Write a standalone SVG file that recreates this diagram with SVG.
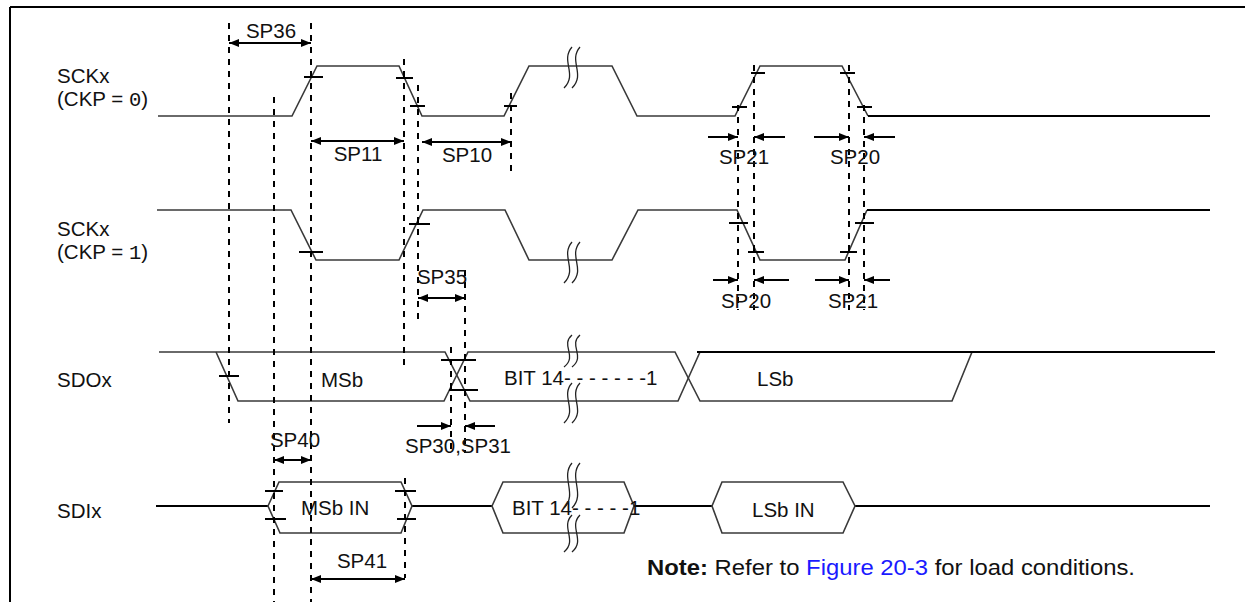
<svg xmlns="http://www.w3.org/2000/svg" width="1245" height="602" viewBox="0 0 1245 602">
<defs>
<style>
.frame{stroke:#000;stroke-width:2;fill:none}
.wave{stroke:#3a3a3a;stroke-width:1.6;fill:none;stroke-linejoin:miter}
.wave2{stroke:#000;stroke-width:2.2;fill:none}
.tick{stroke:#000;stroke-width:2;fill:none}
.dash{stroke:#000;stroke-width:2;stroke-dasharray:6 6;fill:none}
.arr{stroke:#000;stroke-width:2;fill:none}
.brk{stroke:#222;stroke-width:1.3;fill:none}
.lbl{font-family:"Liberation Sans",Arial,sans-serif;font-size:20.5px;fill:#111}
.mono{font-family:"Liberation Mono","Courier New",monospace}
</style>
<marker id="ah" viewBox="0 0 10 8" refX="10" refY="4" markerWidth="10" markerHeight="8" markerUnits="userSpaceOnUse" orient="auto-start-reverse">
<path d="M0,0 L10,4 L0,8 z" fill="#000"/>
</marker>
<path id="sq" d="M4,0 C-8,14 10,27 -4,41"/>
</defs>
<rect width="1245" height="602" fill="#fff"/>
<g id="frame">
<path class="frame" d="M10,7 H1245 M10,7 V602"/>
</g>

<g id="sck0">
<text class="lbl" x="57" y="83">SCKx</text>
<text class="lbl" x="57" y="106">(CKP = <tspan class="mono">0</tspan>)</text>
<path class="wave" d="M158,116 H292 L317,66 H399 L422,116 H504 L529,66 H612 L637,116 H735 L760,66 H842 L868,116"/>
<path class="wave2" d="M868,116 H1210"/>
<path class="tick" d="M304,77 H323 M396,78 H413 M410,106 H425 M504,106 H517 M732,107 H747 M751,73 H765 M840,73 H855 M857,107 H872"/>
<use href="#sq" class="brk" x="568" y="47"/>
<use href="#sq" class="brk" x="576" y="47"/>
</g>

<g id="sck1">
<text class="lbl" x="57" y="236">SCKx</text>
<text class="lbl" x="57" y="259">(CKP = <tspan class="mono">1</tspan>)</text>
<path class="wave" d="M157,210 H291 L316,260 H399 L423,210 H505 L529,260 H612 L638,210 H737 L760,260 H845 L867,210"/>
<path class="wave2" d="M867,210 H1210"/>
<path class="tick" d="M299,252 H323 M409,224 H430 M729,223 H748 M748,252 H764 M840,252 H857 M855,223 H874"/>
<use href="#sq" class="brk" x="568" y="242"/>
<use href="#sq" class="brk" x="576" y="242"/>
</g>

<g id="sdo">
<text class="lbl" x="57" y="387">SDOx</text>
<path class="wave" d="M159,352 H445 L470,401 H678 L700,352"/>
<path class="wave" d="M216,352 L238,401 H444 L468,352 H675 L700,401 H952 L972,352"/>
<path class="wave2" d="M697,352 H1215"/>
<path class="tick" d="M219,376 H239 M441,360 H476 M449,390 H478"/>
<text class="lbl" x="321" y="387">MSb</text>
<text class="lbl" x="504" y="385">BIT 14- - - - - - -1</text>
<text class="lbl" x="757" y="386">LSb</text>
<path class="brk" d="M572,335 C560,345 578,356 564,367 M580,335 C568,345 586,356 572,367"/>
<path class="brk" d="M572,383 C560,396 578,410 564,423 M580,383 C568,396 586,410 572,423"/>
</g>

<g id="sdi">
<text class="lbl" x="57" y="518">SDIx</text>
<path class="wave2" d="M156,506 H268 M412,506 H492 M634,506 H712 M855,506 H1210"/>
<path class="wave" d="M268,506 L279,482 H401 L412,506 L401,533 H280 Z"/>
<path class="wave" d="M492,506 L503,482 H624 L634,506 L624,533 H503 Z"/>
<path class="wave" d="M712,506 L722,482 H843 L855,506 L843,533 H722 Z"/>
<path class="tick" d="M265,491 H283 M265,519 H286 M395,491 H416 M397,519 H416"/>
<text class="lbl" x="301" y="515">MSb IN</text>
<text class="lbl" x="512" y="515">BIT 14- - - - -1</text>
<text class="lbl" x="752" y="517">LSb IN</text>
<path class="brk" d="M572,463 C560,477 578,494 564,508 M580,463 C568,477 586,494 572,508"/>
<path class="brk" d="M572,515 C560,527 578,540 564,552 M580,515 C568,527 586,540 572,552"/>
</g>

<g id="guides">
<path class="dash" d="M229,23 V423 M274,97 V602 M311,23 V602 M404,59 V367 M418,85 V322 M511,93 V173 M451,347 V453 M465,270 V453 M405,478 V578 M738,105 V310 M754,65 V310 M849,65 V310 M864,105 V310"/>
</g>

<g id="connectors">
<path class="arr" marker-start="url(#ah)" marker-end="url(#ah)" d="M229,43 H311"/>
<path class="arr" marker-start="url(#ah)" marker-end="url(#ah)" d="M311,141 H404"/>
<path class="arr" marker-start="url(#ah)" marker-end="url(#ah)" d="M422,142 H511"/>
<path class="arr" marker-end="url(#ah)" d="M708,137 H738"/>
<path class="arr" marker-end="url(#ah)" d="M785,137 H754"/>
<path class="arr" marker-end="url(#ah)" d="M814,137 H849"/>
<path class="arr" marker-end="url(#ah)" d="M895,137 H864"/>
<path class="arr" marker-end="url(#ah)" d="M713,280 H738"/>
<path class="arr" marker-end="url(#ah)" d="M789,280 H754"/>
<path class="arr" marker-end="url(#ah)" d="M815,280 H849"/>
<path class="arr" marker-end="url(#ah)" d="M890,280 H864"/>
<path class="arr" marker-start="url(#ah)" marker-end="url(#ah)" d="M418,298 H465"/>
<path class="arr" marker-end="url(#ah)" d="M417,426 H451"/>
<path class="arr" marker-end="url(#ah)" d="M495,426 H465"/>
<path class="arr" marker-start="url(#ah)" marker-end="url(#ah)" d="M274,460 H311"/>
<path class="arr" marker-start="url(#ah)" marker-end="url(#ah)" d="M311,579 H405"/>
</g>

<g id="timing-labels">
<text class="lbl" x="271" y="38" text-anchor="middle">SP36</text>
<text class="lbl" x="358" y="161" text-anchor="middle">SP11</text>
<text class="lbl" x="467" y="162" text-anchor="middle">SP10</text>
<text class="lbl" x="744" y="164" text-anchor="middle">SP21</text>
<text class="lbl" x="855" y="164" text-anchor="middle">SP20</text>
<text class="lbl" x="746" y="308" text-anchor="middle">SP20</text>
<text class="lbl" x="853" y="308" text-anchor="middle">SP21</text>
<text class="lbl" x="442" y="284" text-anchor="middle">SP35</text>
<text class="lbl" x="458" y="453" text-anchor="middle">SP30,SP31</text>
<text class="lbl" x="295" y="447" text-anchor="middle">SP40</text>
<text class="lbl" x="362" y="568" text-anchor="middle">SP41</text>
</g>

<g id="note">
<text class="lbl" x="647" y="575" style="font-size:22px" textLength="488" lengthAdjust="spacingAndGlyphs"><tspan font-weight="bold">Note:</tspan> Refer to <tspan fill="#1a1aff">Figure 20-3</tspan> for load conditions.</text>
</g>
</svg>
